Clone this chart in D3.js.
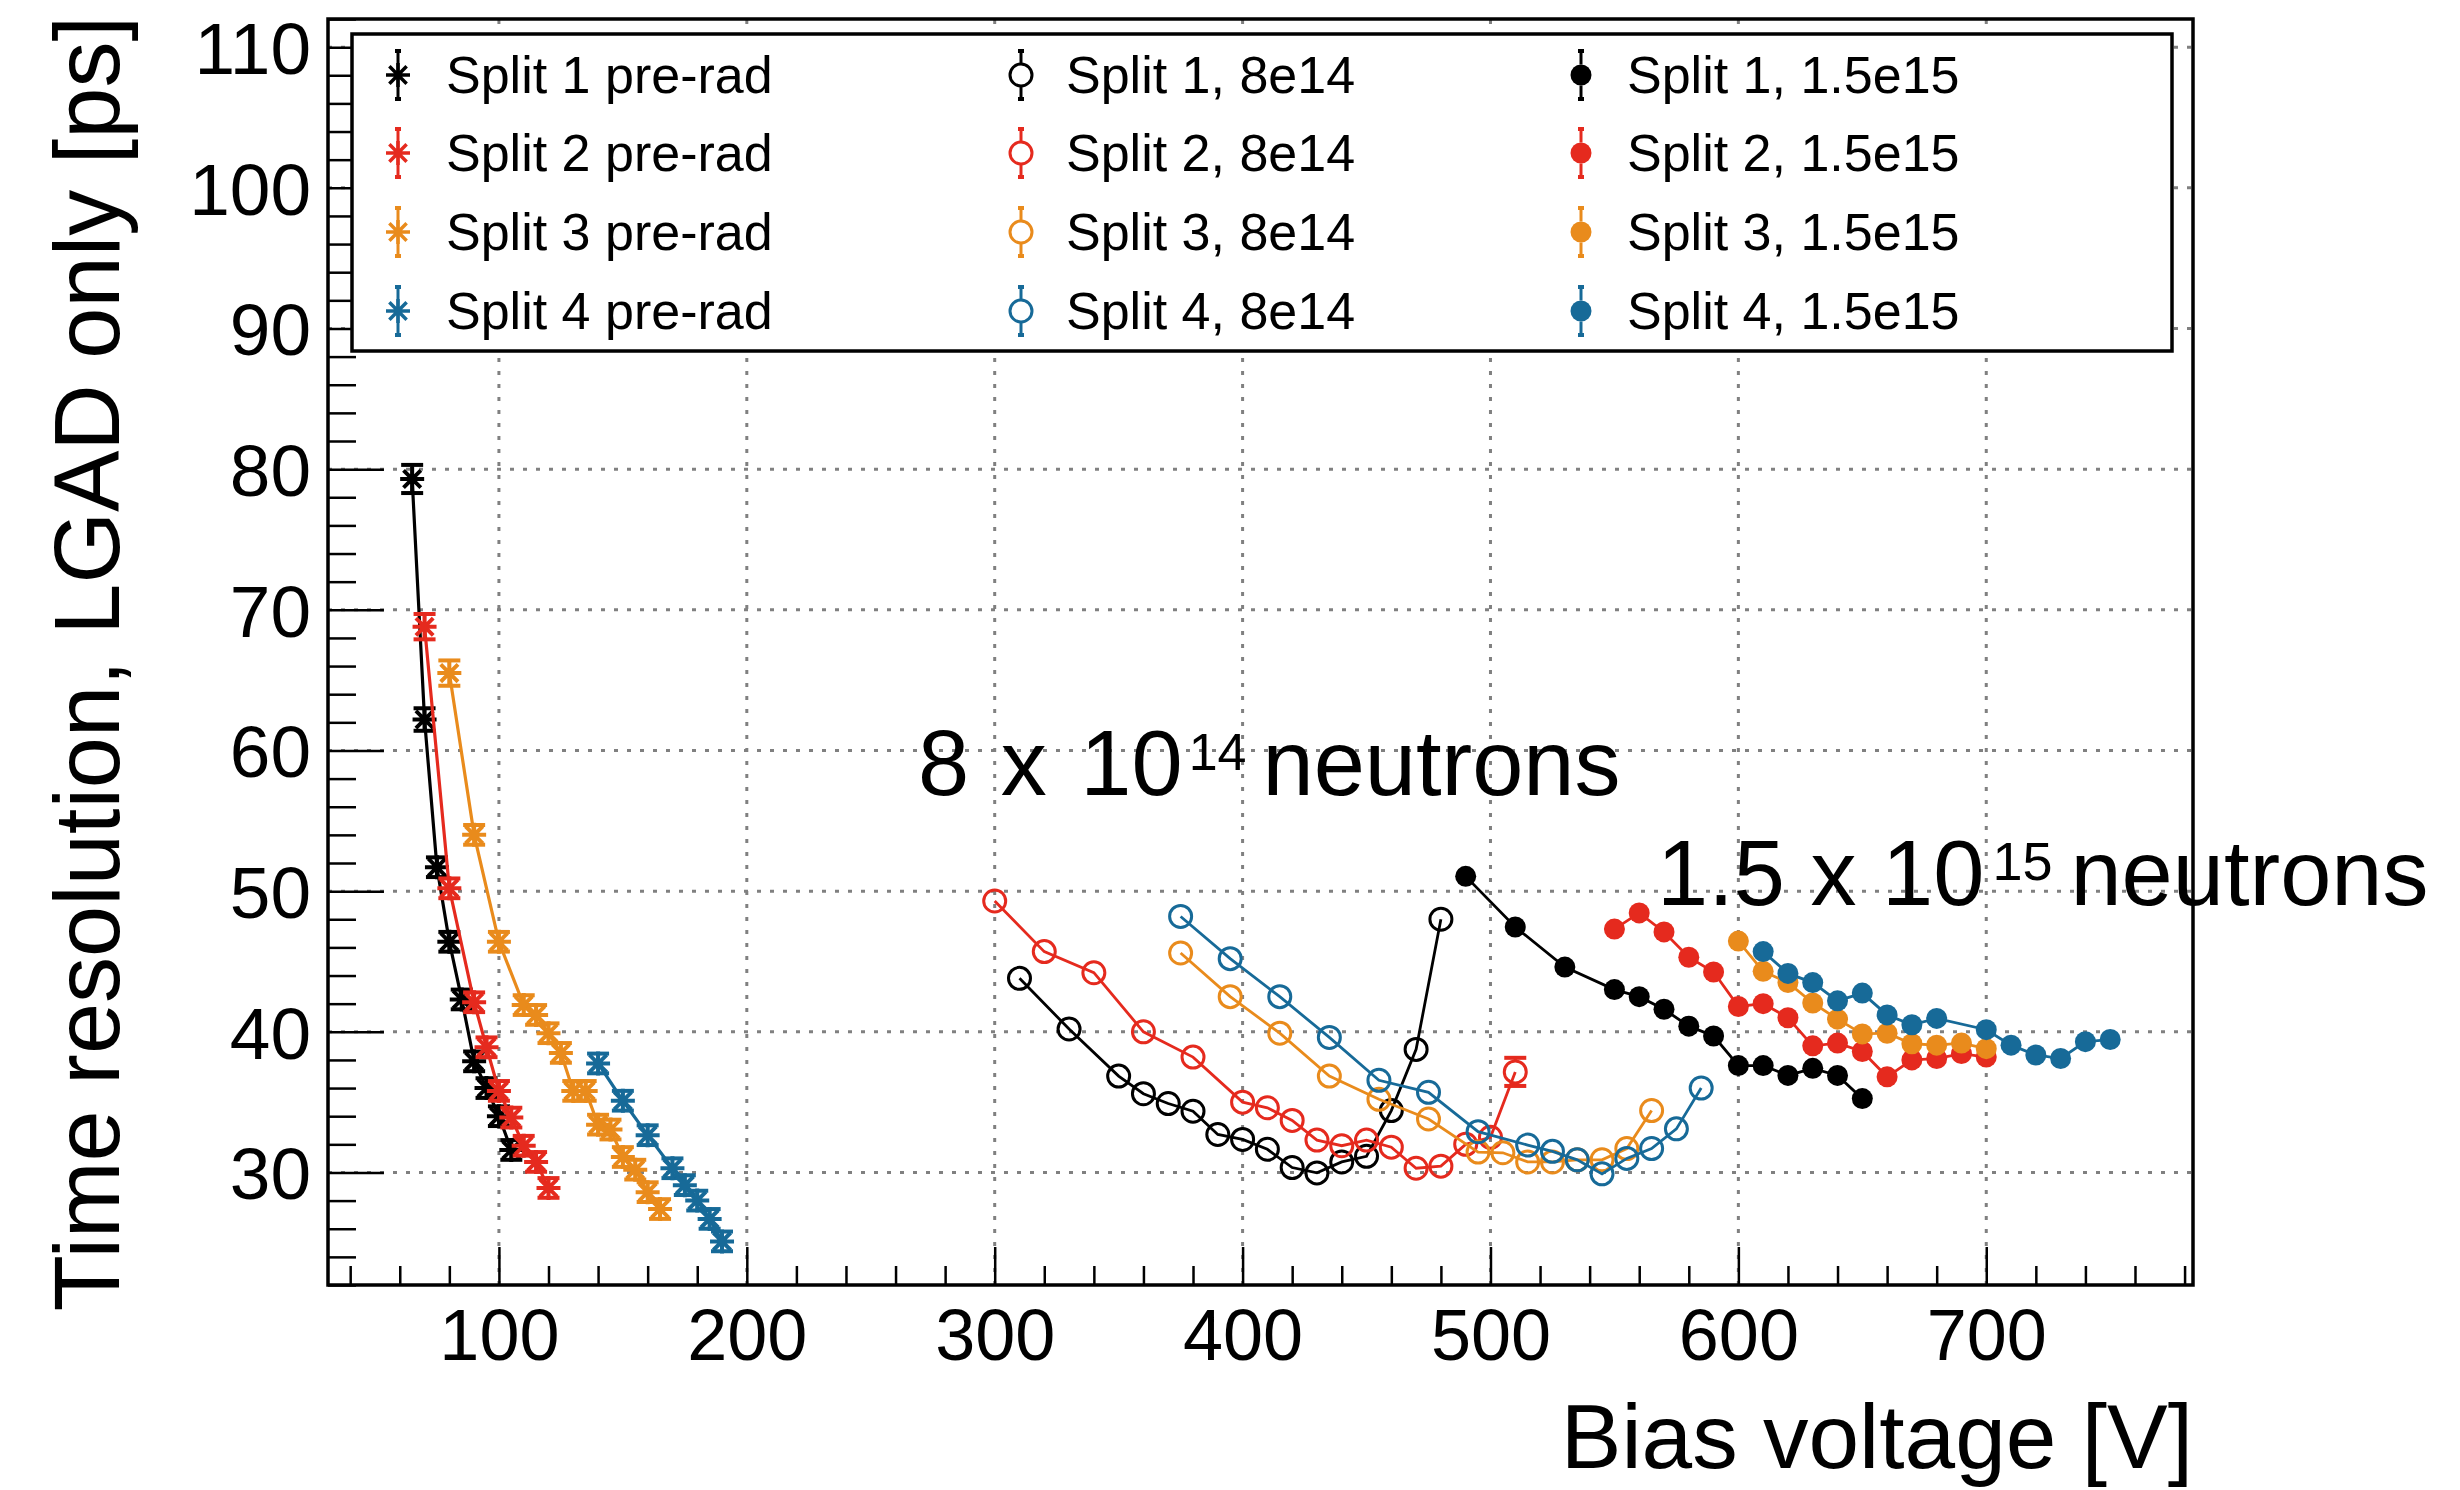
<!DOCTYPE html>
<html><head><meta charset="utf-8">
<script src="https://cdn.jsdelivr.net/npm/d3@7"></script>
<style>
body{margin:0;background:#fff}
svg{display:block}
text{font-family:"Liberation Sans",Arial,Helvetica,sans-serif;fill:#000}
</style>
</head><body>
<svg id="chart" width="2460" height="1490"></svg>
<script>
// ---------------- data ----------------
const xTickValues = [100, 200, 300, 400, 500, 600, 700];
const yTickValues = [30, 40, 50, 60, 70, 80, 90, 100, 110];

const seriesNames = ["Split 1", "Split 2", "Split 3", "Split 4"];
const seriesColors = ["#000000", "#e52a1e", "#e98b1c", "#176a98"];

// pre-rad
const s1PreV = [65, 70, 75, 80, 85, 90, 95, 100, 105];
const s1PreT = [79.3, 62.2, 51.7, 46.4, 42.3, 37.9, 36.0, 34.0, 31.6];
const s1PreE = [1.0, 0.8, 0.7, 0.7, 0.7, 0.7, 0.7, 0.7, 0.7];
const s2PreV = [70, 80, 90, 95, 100, 105, 110, 115, 120];
const s2PreT = [68.8, 50.2, 42.1, 38.9, 35.8, 33.9, 31.9, 30.75, 28.9];
const s2PreE = [0.9, 0.7, 0.7, 0.7, 0.7, 0.7, 0.7, 0.7, 0.7];
const s3PreV = [80, 90, 100, 110, 115, 120, 125, 130, 135, 140, 145, 150, 155, 160, 165];
const s3PreT = [65.5, 54.0, 46.4, 41.9, 41.2, 39.9, 38.5, 35.8, 35.8, 33.4, 33.05, 31.1, 30.2, 28.6, 27.4];
const s3PreE = [0.9, 0.7, 0.7, 0.7, 0.7, 0.7, 0.7, 0.7, 0.7, 0.7, 0.7, 0.7, 0.7, 0.7, 0.7];
const s4PreV = [140, 150, 160, 170, 175, 180, 185, 190];
const s4PreT = [37.75, 35.1, 32.65, 30.3, 29.1, 28.0, 26.7, 25.1];
const s4PreE = [0.7, 0.7, 0.7, 0.7, 0.7, 0.7, 0.7, 0.7];

// 8e14
const s1MidV = [310, 330, 350, 360, 370, 380, 390, 400, 410, 420, 430, 440, 450, 460, 470, 480];
const s1MidT = [43.8, 40.2, 36.85, 35.6, 34.9, 34.35, 32.7, 32.35, 31.65, 30.35, 29.97, 30.75, 31.15, 34.4, 38.75, 48.0];
const s2MidV = [300, 320, 340, 360, 380, 400, 410, 420, 430, 440, 450, 460, 470, 480, 490, 500, 510];
const s2MidT = [49.3, 45.7, 44.2, 40.0, 38.2, 35.0, 34.6, 33.7, 32.3, 31.9, 32.3, 31.8, 30.3, 30.45, 32.0, 32.5, 37.15];
const s2MidE = [0.5, 0.5, 0.5, 0.5, 0.5, 0.5, 0.5, 0.5, 0.5, 0.5, 0.5, 0.5, 0.5, 0.5, 0.5, 0.5, 1.0];
const s3MidV = [375, 395, 415, 435, 455, 475, 495, 505, 515, 525, 535, 545, 555, 565];
const s3MidT = [45.6, 42.5, 39.9, 36.85, 35.2, 33.8, 31.45, 31.4, 30.75, 30.75, 30.9, 30.9, 31.7, 34.4];
const s4MidV = [375, 395, 415, 435, 455, 475, 495, 515, 525, 535, 545, 555, 565, 575, 585];
const s4MidT = [48.2, 45.2, 42.5, 39.6, 36.55, 35.7, 32.9, 31.95, 31.5, 30.9, 29.9, 31.0, 31.7, 33.1, 36.0];

// 1.5e15
const s1HighV = [490, 510, 530, 550, 560, 570, 580, 590, 600, 610, 620, 630, 640, 650];
const s1HighT = [51.05, 47.45, 44.6, 43.0, 42.5, 41.6, 40.4, 39.7, 37.6, 37.6, 36.9, 37.4, 36.9, 35.25];
const s2HighV = [550, 560, 570, 580, 590, 600, 610, 620, 630, 640, 650, 660, 670, 680, 690, 700];
const s2HighT = [47.3, 48.45, 47.1, 45.3, 44.25, 41.8, 42.0, 41.0, 39.0, 39.2, 38.6, 36.8, 38.0, 38.1, 38.45, 38.2];
const s3HighV = [600, 610, 620, 630, 640, 650, 660, 670, 680, 690, 700];
const s3HighT = [46.45, 44.3, 43.5, 42.05, 40.9, 39.85, 39.9, 39.15, 39.05, 39.2, 38.8];
const s4HighV = [610, 620, 630, 640, 650, 660, 670, 680, 700, 710, 720, 730, 740, 750];
const s4HighT = [45.7, 44.15, 43.5, 42.2, 42.75, 41.2, 40.5, 40.95, 40.15, 39.05, 38.35, 38.1, 39.3, 39.45];

const legendPre = ["Split 1 pre-rad", "Split 2 pre-rad", "Split 3 pre-rad", "Split 4 pre-rad"];
const legendMid = ["Split 1, 8e14", "Split 2, 8e14", "Split 3, 8e14", "Split 4, 8e14"];
const legendHigh = ["Split 1, 1.5e15", "Split 2, 1.5e15", "Split 3, 1.5e15", "Split 4, 1.5e15"];

const xTitle = "Bias voltage [V]";
const yTitle = "Time resolution, LGAD only [ps]";

// ---------------- layout ----------------
const frame = {left: 328, right: 2193, top: 19, bottom: 1285};
const xDomain = [31.05, 783.4];
const yDomain = [22, 112];

const svg = d3.select("#chart");
const x = d3.scaleLinear().domain(xDomain).range([frame.left, frame.right]);
const y = d3.scaleLinear().domain(yDomain).range([frame.bottom, frame.top]);

const fw = frame.right - frame.left, fh = frame.bottom - frame.top;

// grid
const gridG = svg.append("g").attr("stroke", "#808080").attr("stroke-width", 3)
  .attr("stroke-dasharray", "4,9").attr("fill", "none");
xTickValues.forEach(v => gridG.append("line").attr("x1", x(v)).attr("x2", x(v))
  .attr("y1", frame.bottom).attr("y2", frame.top));
yTickValues.forEach(v => gridG.append("line").attr("y1", y(v)).attr("y2", y(v))
  .attr("x1", frame.left).attr("x2", frame.right));

// axes
const xMajorLen = 0.03 * fh, yMajorLen = 0.03 * fw;
const xAxis = d3.axisBottom(x).tickValues(d3.range(40, 781, 20))
  .tickSizeOuter(0).tickFormat("").tickSizeInner(-xMajorLen / 2);
const gx = svg.append("g").attr("transform", `translate(0,${frame.bottom})`).call(xAxis);
gx.selectAll(".tick line").attr("stroke", "#000").attr("stroke-width", 2.5)
  .attr("y2", d => (d % 100 === 0 ? -xMajorLen : -xMajorLen / 2));
gx.select(".domain").remove();
gx.selectAll(".tick").filter(d => d % 100 === 0).append("text")
  .attr("y", 75).attr("text-anchor", "middle").attr("font-size", 72)
  .style("font-family", '"Liberation Sans",Arial,sans-serif').attr("fill", "#000")
  .text(d => d);

const yAxis = d3.axisLeft(y).tickValues(d3.range(22, 112.1, 2))
  .tickSizeOuter(0).tickFormat("").tickSizeInner(-yMajorLen / 2);
const gy = svg.append("g").attr("transform", `translate(${frame.left},0)`).call(yAxis);
gy.selectAll(".tick line").attr("stroke", "#000").attr("stroke-width", 2.5)
  .attr("x2", d => (d % 10 === 0 ? yMajorLen : yMajorLen / 2));
gy.select(".domain").remove();
gy.selectAll(".tick").filter(d => d % 10 === 0).append("text")
  .attr("x", -17).attr("dy", "0.36em").attr("text-anchor", "end").attr("font-size", 73)
  .style("font-family", '"Liberation Sans",Arial,sans-serif').attr("fill", "#000")
  .text(d => d);

// frame
svg.append("rect").attr("x", frame.left).attr("y", frame.top).attr("width", fw).attr("height", fh)
  .attr("fill", "none").attr("stroke", "#000").attr("stroke-width", 3.5);

// titles
svg.append("text").attr("x", frame.right).attr("y", 1468).attr("text-anchor", "end")
  .attr("font-size", 91).text(xTitle);
svg.append("text").attr("transform", `translate(119,16) rotate(-90)`).attr("text-anchor", "end")
  .attr("font-size", 92).text(yTitle);

// ---------------- markers ----------------
const plotG = svg.append("g");
const MR_OPEN = 11, MR_FILL = 10.5, MR_STAR = 12, CAP = 11;

function starPath(r) {
  const d = r * 0.72;
  return `M${-r},0L${r},0M0,${-r}L0,${r}M${-d},${-d}L${d},${d}M${-d},${d}L${d},${-d}`;
}

function drawSeries(V, T, E, color, kind) {
  const pts = V.map((v, i) => ({v, t: T[i], e: E ? E[i] : 0.5}));
  const line = d3.line().x(d => x(d.v)).y(d => y(d.t));
  const g = plotG.append("g");
  g.append("path").datum(pts).attr("d", line).attr("fill", "none")
    .attr("stroke", color).attr("stroke-width", kind === "star" ? 3.2 : 2.8);
  const inner = kind === "star" ? 0 : (kind === "open" ? MR_OPEN : MR_FILL);
  pts.forEach(p => {
    const cx = x(p.v), cy = y(p.t);
    const eTop = y(p.t + p.e), eBot = y(p.t - p.e);
    if (cy - eTop > inner + 1) {
      g.append("line").attr("x1", cx).attr("x2", cx).attr("y1", eTop).attr("y2", cy - inner)
        .attr("stroke", color).attr("stroke-width", 3.2);
      g.append("line").attr("x1", cx).attr("x2", cx).attr("y1", cy + inner).attr("y2", eBot)
        .attr("stroke", color).attr("stroke-width", 3.2);
      g.append("line").attr("x1", cx - CAP).attr("x2", cx + CAP).attr("y1", eTop).attr("y2", eTop)
        .attr("stroke", color).attr("stroke-width", 4);
      g.append("line").attr("x1", cx - CAP).attr("x2", cx + CAP).attr("y1", eBot).attr("y2", eBot)
        .attr("stroke", color).attr("stroke-width", 4);
    }
    if (kind === "star") {
      g.append("path").attr("d", starPath(MR_STAR)).attr("transform", `translate(${cx},${cy})`)
        .attr("stroke", color).attr("stroke-width", 4).attr("fill", "none");
    } else if (kind === "open") {
      g.append("circle").attr("cx", cx).attr("cy", cy).attr("r", MR_OPEN)
        .attr("fill", "none").attr("stroke", color).attr("stroke-width", 3);
    } else {
      g.append("circle").attr("cx", cx).attr("cy", cy).attr("r", MR_FILL).attr("fill", color);
    }
  });
}

drawSeries(s1PreV, s1PreT, s1PreE, seriesColors[0], "star");
drawSeries(s2PreV, s2PreT, s2PreE, seriesColors[1], "star");
drawSeries(s3PreV, s3PreT, s3PreE, seriesColors[2], "star");
drawSeries(s4PreV, s4PreT, s4PreE, seriesColors[3], "star");
drawSeries(s1MidV, s1MidT, null, seriesColors[0], "open");
drawSeries(s2MidV, s2MidT, s2MidE, seriesColors[1], "open");
drawSeries(s3MidV, s3MidT, null, seriesColors[2], "open");
drawSeries(s4MidV, s4MidT, null, seriesColors[3], "open");
drawSeries(s1HighV, s1HighT, null, seriesColors[0], "fill");
drawSeries(s2HighV, s2HighT, null, seriesColors[1], "fill");
drawSeries(s3HighV, s3HighT, null, seriesColors[2], "fill");
drawSeries(s4HighV, s4HighT, null, seriesColors[3], "fill");

// ---------------- annotations ----------------
// parts: [mantissa, "x", "10"], exponent, unit; gaps are extra spacing
function sciLabel(xp, yp, parts, gaps, exp, post, fs, supFs, gapPre, gapPost) {
  const t = svg.append("text").attr("x", xp).attr("y", yp).attr("font-size", fs);
  parts.forEach((p, i) => t.append("tspan").attr("dx", i === 0 ? 0 : gaps[i - 1]).text((i === 0 ? "" : " ") + p));
  t.append("tspan").attr("font-size", supFs).attr("dy", -25).attr("dx", gapPre).text(exp);
  t.append("tspan").attr("dy", 25).attr("dx", gapPost).text(post);
}
sciLabel(918, 795, ["8", "x", "10"], [6, 8], "14", "neutrons", 92, 52, 6, 16);
sciLabel(1657, 905, ["1.5", "x", "10"], [0, 0], "15", "neutrons", 92, 54, 8, 18);

// ---------------- legend ----------------
const leg = {x: 352, y: 34, w: 1820, h: 317};
svg.append("rect").attr("x", leg.x).attr("y", leg.y).attr("width", leg.w).attr("height", leg.h)
  .attr("fill", "#fff").attr("stroke", "#000").attr("stroke-width", 3.5);
const rowY = [75, 153, 232, 311];
const colMarkX = [398, 1021, 1581];
const colTextX = [446, 1066, 1627];
const legendCols = [legendPre, legendMid, legendHigh];
const kinds = ["star", "open", "fill"];
legendCols.forEach((labels, c) => {
  labels.forEach((lab, r) => {
    const cx = colMarkX[c], cy = rowY[r], col = seriesColors[r];
    const inner = kinds[c] === "star" ? 0 : (kinds[c] === "open" ? MR_OPEN : MR_FILL);
    const eb = 24;
    svg.append("line").attr("x1", cx).attr("x2", cx).attr("y1", cy - eb).attr("y2", cy - inner)
      .attr("stroke", col).attr("stroke-width", 3);
    svg.append("line").attr("x1", cx).attr("x2", cx).attr("y1", cy + inner).attr("y2", cy + eb)
      .attr("stroke", col).attr("stroke-width", 3);
    [cy - eb, cy + eb].forEach(yy => svg.append("line").attr("x1", cx - 3).attr("x2", cx + 3)
      .attr("y1", yy).attr("y2", yy).attr("stroke", col).attr("stroke-width", 4));
    if (kinds[c] === "star") {
      svg.append("path").attr("d", starPath(MR_STAR)).attr("transform", `translate(${cx},${cy})`)
        .attr("stroke", col).attr("stroke-width", 3.5).attr("fill", "none");
    } else if (kinds[c] === "open") {
      svg.append("circle").attr("cx", cx).attr("cy", cy).attr("r", MR_OPEN)
        .attr("fill", "none").attr("stroke", col).attr("stroke-width", 3);
    } else {
      svg.append("circle").attr("cx", cx).attr("cy", cy).attr("r", MR_FILL).attr("fill", col);
    }
    svg.append("text").attr("x", colTextX[c]).attr("y", cy + 18).attr("font-size", 52).text(lab);
  });
});
</script>
</body></html>
